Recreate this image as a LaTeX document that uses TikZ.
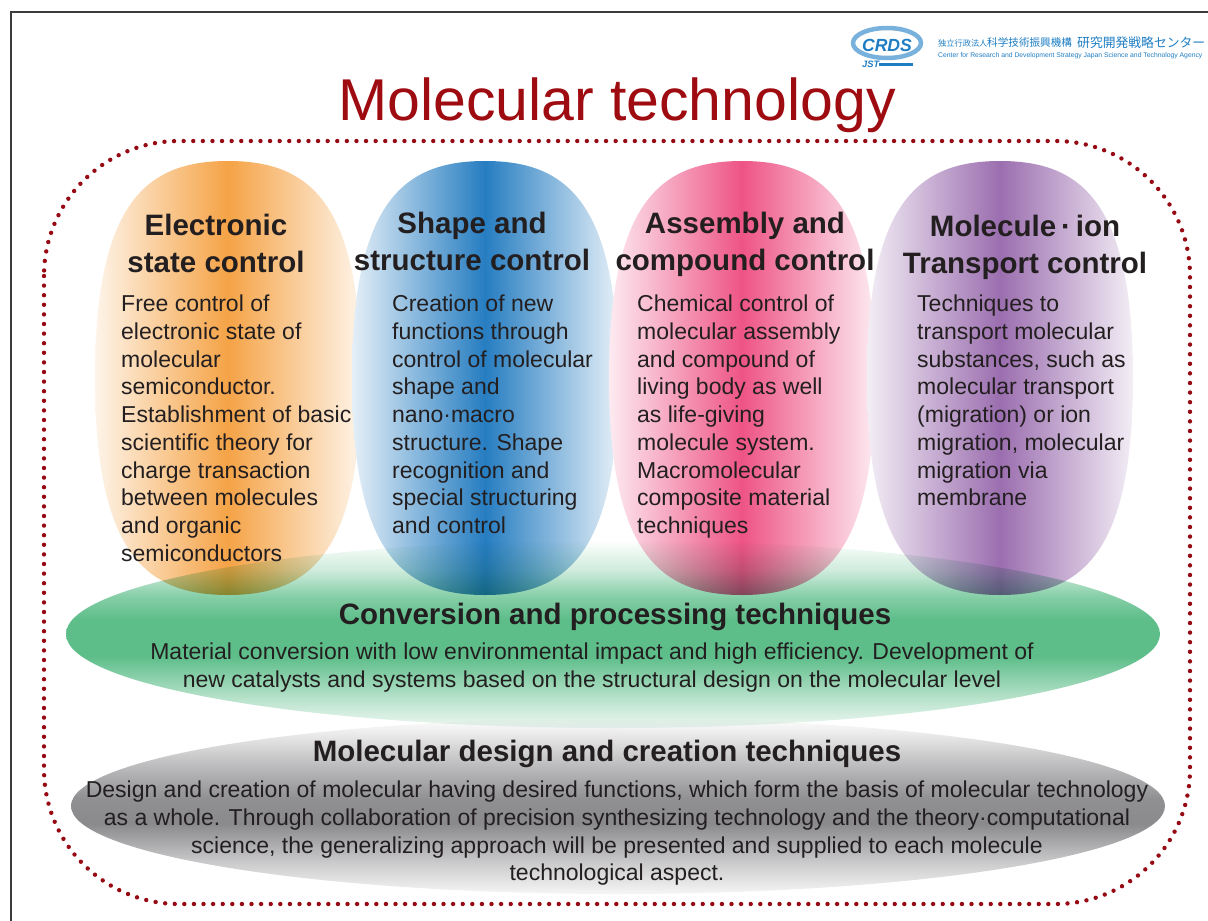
\documentclass[tikz,border=0pt]{standalone}
\usepackage{fontspec}
\setmainfont{Liberation Sans}
\newfontfamily\jpfont{Noto Sans CJK JP}
\usetikzlibrary{shapes.geometric,positioning}

\definecolor{ink}{RGB}{35,31,32}
\definecolor{titlered}{RGB}{158,11,16}
\definecolor{dotred}{RGB}{150,10,20}
\definecolor{framec}{RGB}{60,60,60}
\definecolor{crdsblue}{RGB}{30,125,195}
\definecolor{orangec}{RGB}{245,163,70}
\definecolor{bluec}{RGB}{38,125,193}
\definecolor{pinkc}{RGB}{238,84,134}
\definecolor{purplec}{RGB}{155,110,175}
\definecolor{greenc}{RGB}{94,190,138}
\definecolor{grayc}{RGB}{138,138,141}

\pgfdeclareverticalshading{greenband}{100bp}{color(0bp)=(greenc!10); color(25bp)=(greenc!10);
  color(33bp)=(greenc!45); color(44bp)=(greenc); color(54bp)=(greenc); color(60bp)=(greenc!75);
  color(67bp)=(greenc!30); color(75bp)=(white); color(100bp)=(white)}
\pgfdeclareverticalshading{grayband}{100bp}{color(0bp)=(grayc!8); color(25bp)=(grayc!8);
  color(34bp)=(grayc!45); color(45bp)=(grayc); color(52bp)=(grayc!95); color(62bp)=(grayc!55);
  color(70bp)=(grayc!20); color(75bp)=(white); color(100bp)=(white)}

\begin{document}
\begin{tikzpicture}[x=1pt, y=-1pt,
    band/.style={ellipse, minimum width=1094pt, inner sep=0pt},
    head/.style={font=\bfseries\fontsize{29.5}{36.5}\selectfont, text=ink, align=center, inner sep=0pt},
    body/.style={font=\fontsize{23}{27.7}\selectfont, text=ink, align=left, inner sep=0pt},
    jp/.style={text=crdsblue, inner sep=0pt, anchor=base west},
    dotline/.style={draw=dotred, line width=4.4pt, line cap=round, dash pattern=on 0pt off 9.6pt, rounded corners=135pt}]
    \useasboundingbox (0,0) rectangle (1208,921);

    % Frame and title
    \draw [draw=framec, line width=1.5pt] (11,12) rectangle (1240,950);
    \node [font=\fontsize{59}{70}\selectfont, text=titlered, inner sep=0pt, anchor=base] (title) at (617,120) {Molecular technology};

    % Logo
    \draw [crdsblue!60, line width=4.5pt] (887,43) ellipse (34 and 15);
    \node [font=\bfseries\itshape\fontsize{17.6}{17.6}\selectfont, text=crdsblue, inner sep=0pt] (crds) at (887,45) {CRDS};
    \node [font=\bfseries\itshape\fontsize{9.3}{9.3}\selectfont, jp] (jst) at (862,67) {JST};
    \coordinate (barend) at (913,64);
    \draw [crdsblue, line width=3pt] (jst.east |- barend) -- (barend);
    \node [jp, font=\jpfont\fontsize{8.2}{8.2}\selectfont] (jsta) at (938,46) {独立行政法人};
    \node [jp, font=\jpfont\fontsize{10.6}{10.6}\selectfont] (jstb) at (987,46.5) {科学技術振興機構};
    \node [jp, font=\jpfont\fontsize{12.8}{12.8}\selectfont] (crdsjp) at (1077,47.5) {研究開発戦略センター};
    \node [jp, font=\fontsize{6.8}{6.8}\selectfont] (crdsen) at (938,57.5) {Center for Research and Development Strategy Japan Science and Technology Agency};

    % Dotted border
    \draw [dotline] (44,141) rectangle (1190,904);

    % Ovals {orange, blue, pink, purple}
    \foreach \cx/\col in {228/orangec, 485/bluec, 742/pinkc, 1000/purplec}
        \shade [left color=\col!12, right color=\col!12, middle color=\col]
            (\cx,161) .. controls (\cx+80,161) and (\cx+133,200) .. (\cx+133,378)
            .. controls (\cx+133,556) and (\cx+80,595) .. (\cx,595)
            .. controls (\cx-80,595) and (\cx-133,556) .. (\cx-133,378)
            .. controls (\cx-133,200) and (\cx-80,161) .. (\cx,161) -- cycle;

    % Bands {conv, design}
    \begin{scope}[blend mode=multiply]
    \node [band, minimum height=188pt, shading=greenband]	(conv)		at (613,634)	{};
    \node [band, minimum height=176pt, shading=grayband]	(design)	at (618,806)	{};
    \end{scope}

    % Headings
    \node [head, anchor=north]	(elec-h)	at (216,214)	{Electronic\\state control};
    \node [head, anchor=north]	(shape-h)	at (472,212)	{Shape and\\structure control};
    \node [head, anchor=north]	(assem-h)	at (745,212)	{Assembly and\\compound control};
    \node [head, anchor=north]	(trans-h)	at (1025,215)	{Molecule\,·\,ion\\Transport control};
    \node [head, anchor=base]	(conv-h)	at (615,624)	{Conversion and processing techniques};
    \node [head, anchor=base]	(design-h)	at (607,761)	{Molecular design and creation techniques};

    % Texts
    \node [body, anchor=north west]	(elec-t)	at (121,295)	{Free control of\\electronic state of\\molecular\\semiconductor.\\Establishment of basic\\scientific theory for\\charge transaction\\between molecules\\and organic\\semiconductors};
    \node [body, anchor=north west]	(shape-t)	at (392,295)	{Creation of new\\functions through\\control of molecular\\shape and\\nano·macro\\structure. Shape\\recognition and\\special structuring\\and control};
    \node [body, anchor=north west]	(assem-t)	at (637,295)	{Chemical control of\\molecular assembly\\and compound of\\living body as well\\as life-giving\\molecule system.\\Macromolecular\\composite material\\techniques};
    \node [body, anchor=north west]	(trans-t)	at (917,295)	{Techniques to\\transport molecular\\substances, such as\\molecular transport\\(migration) or ion\\migration, molecular\\migration via\\membrane};
    \node [body, align=center, anchor=north]	(conv-t)	at (592,643)	{Material conversion with low environmental impact and high efficiency. Development of\\new catalysts and systems based on the structural design on the molecular level};
    \node [body, align=center, anchor=north]	(design-t)	at (617,781)	{Design and creation of molecular having desired functions, which form the basis of molecular technology\\as a whole. Through collaboration of precision synthesizing technology and the theory·computational\\science, the generalizing approach will be presented and supplied to each molecule\\technological aspect.};

\end{tikzpicture}
\end{document}
